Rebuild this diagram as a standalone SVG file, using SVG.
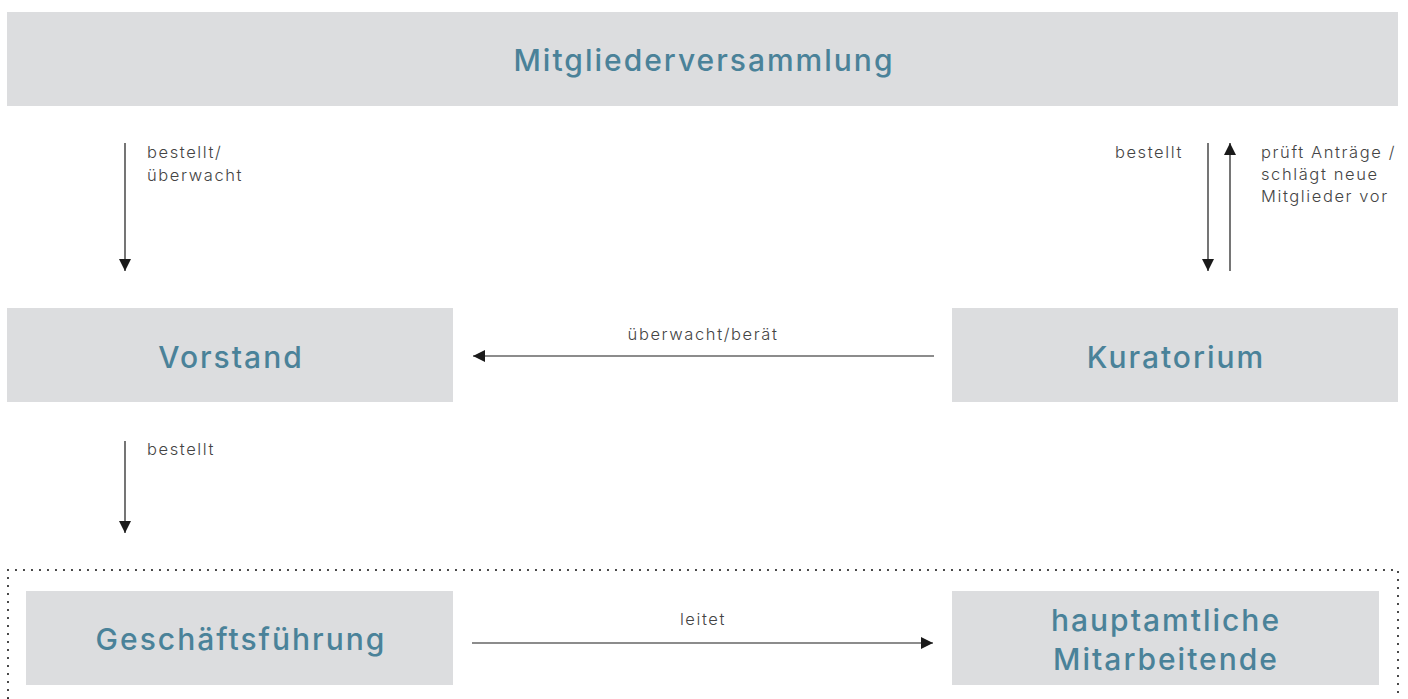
<svg xmlns="http://www.w3.org/2000/svg" width="1408" height="699" viewBox="0 0 1408 699">
<defs>
<marker id="ah" viewBox="0 0 10 10" refX="10" refY="5" markerWidth="12" markerHeight="12" markerUnits="userSpaceOnUse" orient="auto">
<path d="M0,0 L10,5 L0,10 z" fill="#1a1a1a"/>
</marker>
<style>
.box{fill:#dcdddf}
.title{font-family:Inter,"Open Sans","Liberation Sans",sans-serif;font-weight:500;font-size:30px;fill:#4a8299;text-anchor:middle;letter-spacing:2px}
.lbl{font-family:Inter,"Open Sans","Liberation Sans",sans-serif;font-weight:300;font-size:16.5px;fill:#444;letter-spacing:1.6px}
.conn{stroke:#1a1a1a;stroke-width:1.2;fill:none;marker-end:url(#ah)}
.dots{fill:none;stroke:#222;stroke-width:2.2;stroke-linecap:round;stroke-dasharray:0 8}
</style>
</defs>
<rect width="1408" height="699" fill="#fff"/>
<path class="dots" d="M1398,700 L1398,570 L8,570 L8,700"/>
<g id="mitgliederversammlung">
<rect class="box" x="7" y="12" width="1391" height="94"/>
<text class="title" x="704" y="71">Mitgliederversammlung</text>
</g>
<g id="vorstand">
<rect class="box" x="7" y="308" width="446" height="94"/>
<text class="title" x="231" y="368">Vorstand</text>
</g>
<g id="kuratorium">
<rect class="box" x="952" y="308" width="446" height="94"/>
<text class="title" x="1176" y="368">Kuratorium</text>
</g>
<g id="geschaeftsfuehrung">
<rect class="box" x="26" y="591" width="427" height="94"/>
<text class="title" x="241" y="650">Geschäftsführung</text>
</g>
<g id="mitarbeitende">
<rect class="box" x="952" y="591" width="427" height="94"/>
<text class="title" x="1166" y="631">hauptamtliche</text>
<text class="title" x="1166" y="670">Mitarbeitende</text>
</g>
<g id="connectors">
<line class="conn" x1="125" y1="143" x2="125" y2="271"/>
<text class="lbl" x="147" y="158">bestellt/</text>
<text class="lbl" x="147" y="181">überwacht</text>
<line class="conn" x1="1208" y1="143" x2="1208" y2="271"/>
<text class="lbl" x="1183" y="158" text-anchor="end">bestellt</text>
<line class="conn" x1="1230" y1="271" x2="1230" y2="143"/>
<text class="lbl" x="1261" y="158">prüft Anträge /</text>
<text class="lbl" x="1261" y="180">schlägt neue</text>
<text class="lbl" x="1261" y="202">Mitglieder vor</text>
<line class="conn" x1="934" y1="356" x2="473" y2="356"/>
<text class="lbl" x="703" y="340" text-anchor="middle">überwacht/berät</text>
<line class="conn" x1="125" y1="441" x2="125" y2="533"/>
<text class="lbl" x="147" y="455">bestellt</text>
<line class="conn" x1="472" y1="643" x2="933" y2="643"/>
<text class="lbl" x="703" y="625" text-anchor="middle">leitet</text>
</g>
</svg>
